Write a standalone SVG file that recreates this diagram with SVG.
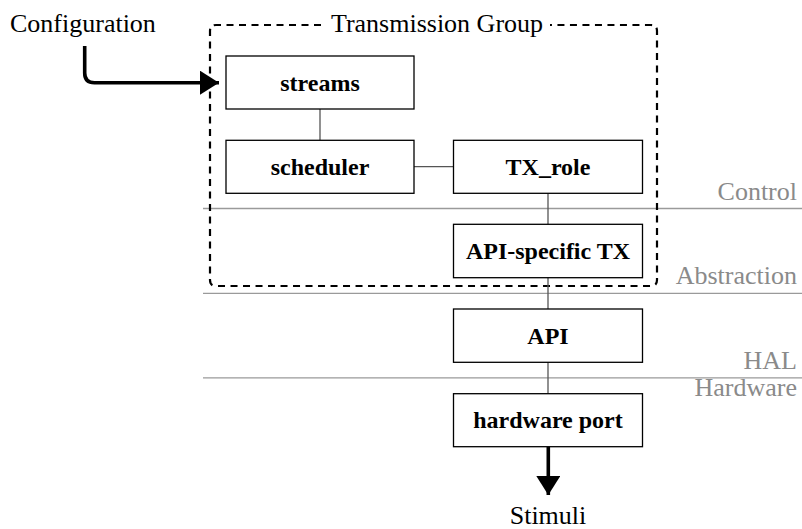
<svg xmlns="http://www.w3.org/2000/svg" width="802" height="529" viewBox="0 0 802 529">
  <style>
    .box { fill: #ffffff; stroke: #000000; stroke-width: 1.3; }
    .lbl { font-family: "Liberation Serif", "Times New Roman", serif; font-weight: bold; font-size: 24px; fill: #000000; text-anchor: middle; }
    .txt { font-family: "Liberation Serif", "Times New Roman", serif; font-size: 26px; fill: #000000; }
    .layer-txt { font-family: "Liberation Serif", "Times New Roman", serif; font-size: 26px; fill: #8a8a8a; text-anchor: end; }
    .layer { stroke: #9a9a9a; stroke-width: 1.3; fill: none; }
    .link { stroke: #555555; stroke-width: 1.3; fill: none; }
    .flow { stroke: #000000; stroke-width: 3.6; fill: none; }
    .group { stroke: #000000; stroke-width: 2.2; fill: none; stroke-dasharray: 7 5.5; }
  </style>
  <defs>
    <marker id="head" markerUnits="userSpaceOnUse" markerWidth="20" markerHeight="24" refX="19" refY="12" orient="auto">
      <path d="M0,0 L19,12 L0,24 Z" fill="#000000"/>
    </marker>
  </defs>
  <rect width="802" height="529" fill="#ffffff"/>

  <!-- layer separators -->
  <g id="layers">
    <line class="layer" x1="203" y1="208.5" x2="802" y2="208.5"/>
    <line class="layer" x1="203" y1="293.3" x2="802" y2="293.3"/>
    <line class="layer" x1="203" y1="377.8" x2="802" y2="377.8"/>
    <text class="layer-txt" x="797" y="200">Control</text>
    <text class="layer-txt" x="797" y="283.5">Abstraction</text>
    <text class="layer-txt" x="797" y="368.5">HAL</text>
    <text class="layer-txt" x="797" y="396">Hardware</text>
  </g>

  <!-- transmission group boundary -->
  <g id="transmission-group">
    <path class="group" d="M321,25 L216,25 Q210,25 210,31 L210,280 Q210,286 216,286 L651,286 Q657,286 657,280 L657,31 Q657,25 651,25 L550,25"/>
    <text class="txt" x="437" y="31.5" text-anchor="middle">Transmission Group</text>
  </g>

  <!-- connectors -->
  <g id="connectors">
    <line class="link" x1="320" y1="109" x2="320" y2="140"/>
    <line class="link" x1="414" y1="166.7" x2="453" y2="166.7"/>
    <line class="link" x1="548" y1="193.3" x2="548" y2="224.3"/>
    <line class="link" x1="548" y1="277.7" x2="548" y2="309"/>
    <line class="link" x1="548" y1="362.3" x2="548" y2="393.7"/>
    <path class="flow" d="M84.7,46 L84.7,73 Q84.7,82.7 94.4,82.7 L219,82.7" marker-end="url(#head)"/>
    <path class="flow" d="M548.3,446.7 L548.3,495" marker-end="url(#head)"/>
  </g>

  <!-- nodes -->
  <g id="streams">
    <rect class="box" x="226" y="56" width="188" height="53"/>
    <text class="lbl" x="320" y="90.7">streams</text>
  </g>
  <g id="scheduler">
    <rect class="box" x="226" y="140.3" width="188" height="53"/>
    <text class="lbl" x="320" y="175">scheduler</text>
  </g>
  <g id="tx-role">
    <rect class="box" x="453.5" y="140.3" width="189" height="53"/>
    <text class="lbl" x="548" y="175">TX_role</text>
  </g>
  <g id="api-specific-tx">
    <rect class="box" x="453.5" y="224.3" width="189" height="53.4"/>
    <text class="lbl" x="548" y="259">API-specific TX</text>
  </g>
  <g id="api">
    <rect class="box" x="453.5" y="309" width="189" height="53.3"/>
    <text class="lbl" x="548" y="343.7">API</text>
  </g>
  <g id="hardware-port">
    <rect class="box" x="453.5" y="393.7" width="189" height="53"/>
    <text class="lbl" x="548" y="428.3">hardware port</text>
  </g>

  <!-- external labels -->
  <g id="configuration">
    <text class="txt" x="10" y="31.5">Configuration</text>
  </g>
  <g id="stimuli">
    <text class="txt" x="548" y="523.5" text-anchor="middle">Stimuli</text>
  </g>
</svg>
